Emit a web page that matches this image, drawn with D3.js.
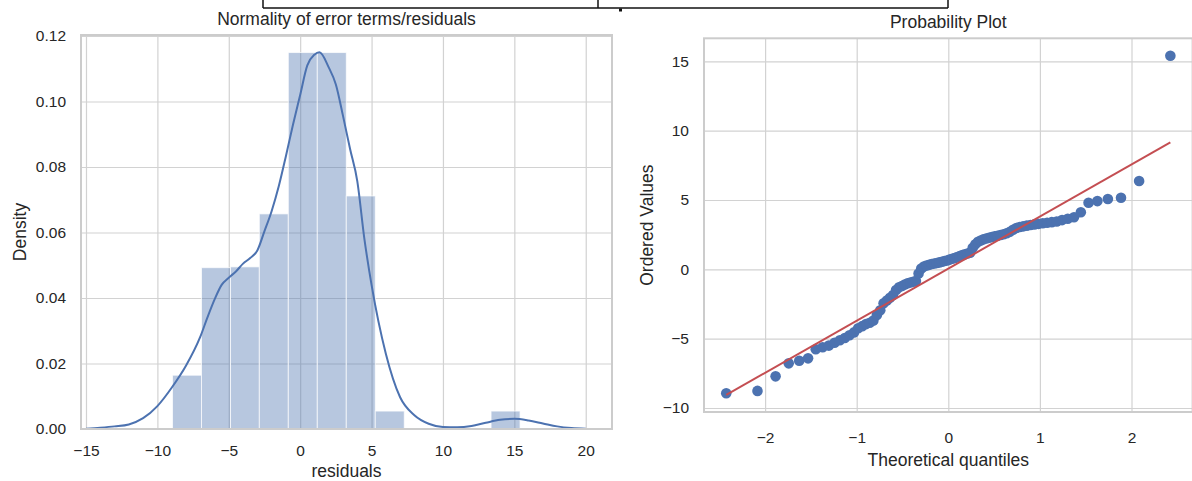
<!DOCTYPE html>
<meta charset="utf-8">

<!-- Load d3.js -->
<script src="https://d3js.org/d3.v7.min.js"></script>

<style>
    body {
        margin: 0;
        background-color: white;
    }
    text {
        font-family: "Liberation Sans", Arial, sans-serif;
        fill: #262626;
    }
</style>

<div id="my_dataviz"></div>

<script>
    // ---- data ----

    // histogram of the residuals (left panel)
    var binEdges = [-8.94, -6.91, -4.88, -2.86, -0.83, 1.20, 3.23, 5.26, 7.29, 9.31, 11.34, 13.37, 15.40];
    var binCounts = [3, 9, 9, 12, 21, 21, 13, 1, 0, 0, 0, 1];

    // kde curve drawn over the histogram
    var kdeX = [-15, -14, -13, -12, -11, -10, -9, -8, -7, -6.5, -6, -5.5, -5, -4.5, -4, -3.5, -3, -2.5, -2, -1.5,
        -1, -0.5, 0, 0.5, 1, 1.35, 2, 2.5, 3, 3.5, 4, 4.5, 5, 6, 7, 8, 9, 10, 11, 12, 13, 14, 15, 16, 17, 18, 19, 20];
    var kdeY = [0.0001, 0.0004, 0.0008, 0.0014, 0.0033, 0.0070, 0.0126, 0.0193, 0.0281, 0.0340, 0.0395, 0.0440, 0.0462, 0.0481, 0.0505, 0.0522, 0.0545, 0.0604, 0.0665, 0.0741,
        0.0833, 0.0930, 0.1020, 0.1110, 0.1143, 0.1150, 0.1104, 0.1052, 0.0956, 0.0854, 0.0757, 0.0580, 0.0440, 0.0230, 0.0097, 0.0042, 0.0016, 0.0006, 0.0005, 0.0009, 0.0019, 0.0028, 0.0031, 0.0026, 0.0017, 0.0008, 0.0003, 0.0001];

    // ordered residuals (right panel, one per point)
    var residuals = [
        -8.94, -8.77, -7.72, -6.78, -6.59, -6.42, -5.77, -5.62, -5.50, -5.30,
        -5.12, -4.95, -4.75, -4.55, -4.25, -4.10, -3.95, -3.85, -3.70, -3.30,
        -2.95, -2.45, -2.25, -2.05, -1.85, -1.50, -1.30, -1.20, -1.10, -1.00,
        -0.95, -0.90, -0.85, -0.30, 0.05, 0.20, 0.28, 0.32, 0.38, 0.42,
        0.46, 0.50, 0.55, 0.60, 0.64, 0.70, 0.76, 0.82, 0.88, 0.95,
        1.02, 1.08, 1.14, 1.20, 1.55, 1.80, 1.98, 2.08, 2.16, 2.22,
        2.28, 2.33, 2.38, 2.42, 2.47, 2.53, 2.60, 2.70, 2.85, 2.98,
        3.05, 3.10, 3.15, 3.20, 3.24, 3.28, 3.32, 3.36, 3.40, 3.45,
        3.55, 3.65, 3.75, 4.11, 4.80, 4.92, 5.07, 5.16, 6.37, 15.40
    ];

    // least squares line of the probability plot
    var fitSlope = 3.758;
    var fitIntercept = 0.05;

    // tick labels
    var histXTicks = [-15, -10, -5, 0, 5, 10, 15, 20];
    var histYTicks = [0, 0.02, 0.04, 0.06, 0.08, 0.10, 0.12];
    var probXTicks = [-2, -1, 0, 1, 2];
    var probYTicks = [-10, -5, 0, 5, 10, 15];

    // ---- drawing ----
    var blue = "#4c72b0",
        red = "#c44e52",
        grid = "#d2d2d2",
        spine = "#cccccc";

    var svg = d3.select("#my_dataviz")
        .append("svg")
        .attr("width", 1192)
        .attr("height", 481);

    // cropped table border above the figure
    var topBox = svg.append("g").attr("stroke", "#111").attr("stroke-width", 1.5);
    topBox.append("line").attr("x1", 263).attr("x2", 948).attr("y1", 8).attr("y2", 8);
    [263, 598, 948].forEach(function(x) {
        topBox.append("line").attr("x1", x).attr("x2", x).attr("y1", 0).attr("y2", 8);
    });
    svg.append("rect").attr("x", 619).attr("y", 8.5).attr("width", 3).attr("height", 3).attr("fill", "#111");

    // draws the grid, tick labels and texts of one panel
    function panel(x, y, xTicks, yTicks, xFmt, yFmt, xLabelDy, title, titleY, xLabel, xLabelY, yLabel, yLabelX) {
        var x0 = x.range()[0], x1 = x.range()[1],
            yb = y.range()[0], yt = y.range()[1];
        var g = svg.append("g");

        // grid lines
        g.append("g")
            .attr("transform", "translate(0," + yb + ")")
            .call(d3.axisBottom(x).tickValues(xTicks).tickSize(-(yb - yt)).tickFormat(""))
            .call(function(a) {
                a.select(".domain").remove();
                a.selectAll("line").attr("stroke", grid).attr("stroke-width", 1.2);
            });
        g.append("g")
            .attr("transform", "translate(" + x0 + ",0)")
            .call(d3.axisLeft(y).tickValues(yTicks).tickSize(-(x1 - x0)).tickFormat(""))
            .call(function(a) {
                a.select(".domain").remove();
                a.selectAll("line").attr("stroke", grid).attr("stroke-width", 1.2);
            });

        // tick labels
        g.append("g")
            .attr("transform", "translate(0," + yb + ")")
            .call(d3.axisBottom(x).tickValues(xTicks).tickSize(0).tickPadding(xLabelDy).tickFormat(xFmt))
            .call(function(a) {
                a.select(".domain").remove();
                a.selectAll("text").style("font-size", "15.5px").attr("fill", "#262626");
            });
        g.append("g")
            .attr("transform", "translate(" + x0 + ",0)")
            .call(d3.axisLeft(y).tickValues(yTicks).tickSize(0).tickPadding(15).tickFormat(yFmt))
            .call(function(a) {
                a.select(".domain").remove();
                a.selectAll("text").style("font-size", "15.5px").attr("fill", "#262626");
            });

        // titles
        g.append("text")
            .attr("x", (x0 + Math.min(x1, 1193)) / 2).attr("y", titleY)
            .attr("text-anchor", "middle").style("font-size", "17.5px")
            .text(title);
        g.append("text")
            .attr("x", (x0 + Math.min(x1, 1193)) / 2).attr("y", xLabelY)
            .attr("text-anchor", "middle").style("font-size", "17.5px")
            .text(xLabel);
        g.append("text")
            .attr("transform", "translate(" + yLabelX + "," + (yb + yt) / 2 + ") rotate(-90)")
            .attr("text-anchor", "middle").style("font-size", "17.5px")
            .text(yLabel);
        return g;
    }

    function frame(x, y) {
        svg.append("rect")
            .attr("x", x.range()[0]).attr("y", y.range()[1])
            .attr("width", x.range()[1] - x.range()[0])
            .attr("height", y.range()[0] - y.range()[1])
            .attr("fill", "none").attr("stroke", spine).attr("stroke-width", 2);
    }

    var minus = function(v) { return (v < 0 ? "\u2212" : "") + Math.abs(v); };

    // ---- left: histogram + kde ----
    var xL = d3.scaleLinear().domain([-15.35, 21.84]).range([81, 612]);
    var yL = d3.scaleLinear().domain([0, 0.1203]).range([429, 35]);

    panel(xL, yL, histXTicks, histYTicks, minus, d3.format(".2f"), 16,
        "Normality of error terms/residuals", 25, "residuals", 477, "Density", 26);

    var n = d3.sum(binCounts);
    var bins = binCounts.map(function(c, i) {
        return { x0: binEdges[i], x1: binEdges[i + 1], density: c / (n * (binEdges[i + 1] - binEdges[i])) };
    });

    svg.append("g")
        .selectAll("rect")
        .data(bins.filter(function(d) { return d.density > 0; }))
        .enter()
        .append("rect")
        .attr("x", function(d) { return xL(d.x0); })
        .attr("y", function(d) { return yL(d.density); })
        .attr("width", function(d) { return xL(d.x1) - xL(d.x0); })
        .attr("height", function(d) { return yL(0) - yL(d.density); })
        .attr("fill", blue)
        .attr("fill-opacity", 0.4)
        .attr("stroke", "white")
        .attr("stroke-opacity", 0.7)
        .attr("stroke-width", 1);

    var kde = kdeX.map(function(v, i) { return [v, kdeY[i]]; });
    svg.append("path")
        .datum(kde)
        .attr("fill", "none")
        .attr("stroke", blue)
        .attr("stroke-width", 2)
        .attr("d", d3.line()
            .curve(d3.curveMonotoneX)
            .x(function(d) { return xL(d[0]); })
            .y(function(d) { return yL(d[1]); }));

    frame(xL, yL);

    // ---- right: probability plot ----
    // theoretical quantiles: normal order statistic medians (Filliben), as scipy.stats.probplot
    function normPpf(p) {
        var a = [-39.69683028665376, 220.9460984245205, -275.9285104469687, 138.3577518672690, -30.66479806614716, 2.506628277459239];
        var b = [-54.47609879822406, 161.5858368580409, -155.6989798598866, 66.80131188771972, -13.28068155288572];
        var c = [-0.007784894002430293, -0.3223964580411365, -2.400758277161838, -2.549732539343734, 4.374664141464968, 2.938163982698783];
        var d = [0.007784695709041462, 0.3224671290700398, 2.445134137142996, 3.754408661907416];
        var q, r;
        if (p < 0.02425) {
            q = Math.sqrt(-2 * Math.log(p));
            return (((((c[0] * q + c[1]) * q + c[2]) * q + c[3]) * q + c[4]) * q + c[5]) / ((((d[0] * q + d[1]) * q + d[2]) * q + d[3]) * q + 1);
        }
        if (p > 1 - 0.02425) return -normPpf(1 - p);
        q = p - 0.5;
        r = q * q;
        return (((((a[0] * r + a[1]) * r + a[2]) * r + a[3]) * r + a[4]) * r + a[5]) * q / (((((b[0] * r + b[1]) * r + b[2]) * r + b[3]) * r + b[4]) * r + 1);
    }
    var m = residuals.length;
    var osm = residuals.map(function(v, i) {
        var last = Math.pow(0.5, 1 / m);
        var p = i === 0 ? 1 - last : (i === m - 1 ? last : (i + 1 - 0.3175) / (m + 0.365));
        return normPpf(p);
    });

    var xR = d3.scaleLinear().domain([-2.667, 2.667]).range([704, 1192.6]);
    var yR = d3.scaleLinear().domain([-10.29, 16.66]).range([412, 38.3]);

    panel(xR, yR, probXTicks, probYTicks, minus, minus, 20,
        "Probability Plot", 27.5, "Theoretical quantiles", 466, "Ordered Values", 653);

    svg.append("g")
        .selectAll("circle")
        .data(residuals)
        .enter()
        .append("circle")
        .attr("cx", function(d, i) { return xR(osm[i]); })
        .attr("cy", function(d) { return yR(d); })
        .attr("r", 5.3)
        .attr("fill", blue);

    var xa = d3.min(osm), xb = d3.max(osm);
    svg.append("line")
        .attr("x1", xR(xa)).attr("y1", yR(fitSlope * xa + fitIntercept))
        .attr("x2", xR(xb)).attr("y2", yR(fitSlope * xb + fitIntercept))
        .attr("stroke", red)
        .attr("stroke-width", 2);

    frame(xR, yR);
</script>
